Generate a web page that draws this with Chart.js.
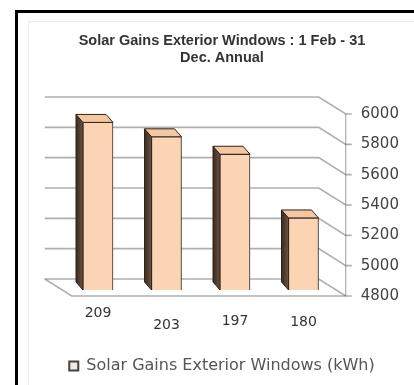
<!DOCTYPE html>
<html>
<head>
<meta charset="utf-8">
<script src="https://cdn.jsdelivr.net/npm/chart.js"></script>
<style>
  html, body { margin: 0; padding: 0; background: #fff; overflow: hidden; }
  .frame { position: absolute; left: 15px; top: 10px; width: 600px; height: 600px;
           border-left: 3px solid #000; border-top: 3px solid #000; }
  .inner { position: absolute; left: 28px; top: 21px; width: 600px; height: 600px;
           border-left: 1px solid #ececec; border-top: 1px solid #ececec; }
  #chartSolar { position: absolute; left: 0; top: 0; }
</style>
</head>
<body>
<div class="frame"></div>
<div class="inner"></div>
<canvas id="chartSolar" width="414" height="385"></canvas>
<script>
// data
const categories = ['209', '203', '197', '180'];
const solarGains = [5905, 5810, 5695, 5275];
const yMin = 4800;
const yMax = 6000;
const yStep = 200;
const titleLines = ['Solar Gains Exterior Windows : 1 Feb - 31', 'Dec. Annual'];
const seriesName = 'Solar Gains Exterior Windows (kWh)';

// staggered x labels (line height per tick pushes each one down)
const xLabelDrop = ['12px', '36px', '28px', '30px'];

// fake 3d offsets, relative to the plane the bars are drawn in
const BACK = { dx: -19, dy: -11 };
const FRONT = { dx: 8, dy: 6 };
const DEPTH = { dx: -7, dy: -8 };

const fake3d = {
    id: 'fake3d',
    beforeDatasetsDraw(chart) {
        const ctx = chart.ctx;
        const { left, right, top, bottom } = chart.chartArea;
        const y = chart.scales.y;
        ctx.save();
        ctx.strokeStyle = 'rgba(110,110,110,0.55)';
        ctx.lineWidth = 1.6;
        y.ticks.forEach(t => {
            const py = y.getPixelForValue(t.value);
            ctx.beginPath();
            ctx.moveTo(left + BACK.dx, py + BACK.dy);
            ctx.lineTo(right + BACK.dx, py + BACK.dy);
            ctx.lineTo(right + FRONT.dx, py + FRONT.dy);
            ctx.lineTo(right + FRONT.dx + 6, py + FRONT.dy);
            ctx.stroke();
        });
        // floor
        ctx.beginPath();
        ctx.moveTo(left + BACK.dx, bottom + BACK.dy);
        ctx.lineTo(left + FRONT.dx, bottom + FRONT.dy);
        ctx.lineTo(right + FRONT.dx, bottom + FRONT.dy);
        ctx.stroke();
        // front value axis
        ctx.strokeStyle = 'rgba(90,90,90,0.6)';
        ctx.lineWidth = 1;
        ctx.beginPath();
        ctx.moveTo(right + FRONT.dx, top + FRONT.dy);
        ctx.lineTo(right + FRONT.dx, bottom + FRONT.dy);
        ctx.stroke();

        // side and top faces of the columns
        const meta = chart.getDatasetMeta(0);
        meta.data.forEach(bar => {
            const p = bar.getProps(['x', 'y', 'base', 'width'], true);
            const l = p.x - p.width / 2;
            const r = p.x + p.width / 2;
            const b = Math.min(p.base, bottom);
            const side = ctx.createLinearGradient(l + DEPTH.dx, 0, l, 0);
            side.addColorStop(0, '#3a2a1f');
            side.addColorStop(1, '#6a5342');
            ctx.fillStyle = side;
            ctx.strokeStyle = '#2e2118';
            ctx.lineWidth = 1;
            ctx.beginPath();
            ctx.moveTo(l, p.y);
            ctx.lineTo(l + DEPTH.dx, p.y + DEPTH.dy);
            ctx.lineTo(l + DEPTH.dx, b + DEPTH.dy);
            ctx.lineTo(l, b);
            ctx.closePath();
            ctx.fill();
            ctx.stroke();
            ctx.fillStyle = '#f2c7a1';
            ctx.beginPath();
            ctx.moveTo(l, p.y);
            ctx.lineTo(l + DEPTH.dx, p.y + DEPTH.dy);
            ctx.lineTo(r + DEPTH.dx, p.y + DEPTH.dy);
            ctx.lineTo(r, p.y);
            ctx.closePath();
            ctx.fill();
            ctx.stroke();
        });
        ctx.restore();
    }
};

const ctx = document.getElementById('chartSolar').getContext('2d');
new Chart(ctx, {
    type: 'bar',
    data: {
        labels: categories,
        datasets: [{
            label: seriesName,
            data: solarGains,
            backgroundColor: '#fbd5b3',
            borderColor: '#3a2a1f',
            borderWidth: 1,
            borderSkipped: false,
            barThickness: 30
        }]
    },
    options: {
        responsive: false,
        animation: false,
        devicePixelRatio: 1,
        layout: { padding: { top: 32.5, left: 32, right: 2, bottom: 1 } },
        plugins: {
            title: {
                display: true,
                text: titleLines,
                color: '#333',
                font: { family: 'Liberation Sans', size: 14.5, weight: 'bold', lineHeight: '17px' },
                padding: { top: 0, bottom: 41.5 }
            },
            legend: {
                position: 'bottom',
                labels: {
                    color: '#555',
                    boxWidth: 9,
                    boxHeight: 9,
                    padding: 4,
                    font: { family: 'DejaVu Sans', size: 16 },
                    generateLabels(chart) {
                        const items = Chart.defaults.plugins.legend.labels.generateLabels(chart);
                        items.forEach(it => { it.lineWidth = 2; it.strokeStyle = '#444'; it.fillStyle = '#f3e9e0'; });
                        return items;
                    }
                }
            },
            tooltip: { enabled: false }
        },
        scales: {
            x: {
                grid: { display: false, drawTicks: false },
                border: { display: false },
                ticks: {
                    color: '#333',
                    padding: 17,
                    maxRotation: 0,
                    font: c => ({ family: 'DejaVu Sans', size: 14, lineHeight: xLabelDrop[c.index] || '14px' })
                },
                afterFit(scale) { scale.height = 64; }
            },
            y: {
                position: 'right',
                min: yMin,
                max: yMax,
                grid: { display: false, drawTicks: false },
                border: { display: false },
                ticks: {
                    stepSize: yStep,
                    color: '#444',
                    padding: 23,
                    font: { family: 'DejaVu Sans', size: 15, lineHeight: '12px' },
                    callback: v => ['', String(v)]
                },
                afterFit(scale) { scale.width = 74.25; }
            },
            spacer: {
                position: 'left',
                display: true,
                grid: { display: false },
                border: { display: false },
                ticks: { display: false },
                afterFit(scale) { scale.width = 31.75; }
            }
        }
    },
    plugins: [fake3d]
});
</script>
</body>
</html>
